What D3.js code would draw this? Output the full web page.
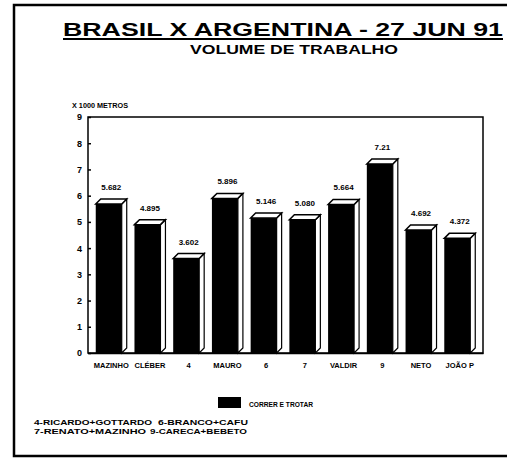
<!DOCTYPE html>
<html>
<head>
<meta charset="utf-8">
<script src="https://cdn.jsdelivr.net/npm/d3@7"></script>
<style>
  body { margin: 0; background: #fff; }
  text { font-family: "Liberation Sans", Arial, sans-serif; font-weight: bold; fill: #000; }
</style>
</head>
<body>
<div id="graph"></div>
<script>
var players = ["MAZINHO", "CLÉBER", "4", "MAURO", "6", "7", "VALDIR", "9", "NETO", "JOÃO P"],
    volumes = [5.682, 4.895, 3.602, 5.896, 5.146, 5.080, 5.664, 7.21, 4.692, 4.372],
    value_labels = ["5.682", "4.895", "3.602", "5.896", "5.146", "5.080", "5.664", "7.21", "4.692", "4.372"],
    y_ticks = [0, 1, 2, 3, 4, 5, 6, 7, 8, 9],
    notes_left = ["4-RICARDO+GOTTARDO", "7-RENATO+MAZINHO"],
    notes_right = ["6-BRANCO+CAFU", "9-CARECA+BEBETO"];

var w = 511, h = 467;

var svg = d3.select("#graph").append("svg")
    .attr("width", w)
    .attr("height", h);

// outer frame (right side is missing on the scan)
svg.append("path")
    .attr("d", "M507,5L14,5L14,456L507,456")
    .attr("fill", "none")
    .attr("stroke", "#000")
    .attr("stroke-width", 2.5);

svg.append("text")
    .attr("x", 63).attr("y", 36)
    .attr("textLength", 440)
    .attr("lengthAdjust", "spacingAndGlyphs")
    .style("font-size", "19px")
    .text("BRASIL X ARGENTINA - 27 JUN 91");
svg.append("line")
    .attr("x1", 63).attr("x2", 503)
    .attr("y1", 39).attr("y2", 39)
    .attr("stroke", "#000").attr("stroke-width", 2);

svg.append("text")
    .attr("x", 190).attr("y", 54)
    .attr("textLength", 208)
    .attr("lengthAdjust", "spacingAndGlyphs")
    .style("font-size", "12.5px")
    .text("VOLUME DE TRABALHO");

svg.append("text")
    .attr("x", 72).attr("y", 108)
    .attr("textLength", 56)
    .attr("lengthAdjust", "spacingAndGlyphs")
    .style("font-size", "8px")
    .text("X 1000 METROS");

var x = d3.scaleBand()
        .domain(players)
        .range([88, 483])
        .paddingInner(0.2)
        .paddingOuter(0.2),
    y = d3.scaleLinear()
        .domain([0, 9])
        .range([353, 117]);

var g = svg.append("g");

// plot frame
g.append("rect")
    .attr("x", 88).attr("y", 117)
    .attr("width", 395).attr("height", 236)
    .attr("fill", "none")
    .attr("stroke", "#000")
    .attr("stroke-width", 1.5);

var yaxis = g.append("g")
    .attr("transform", "translate(88,0)")
    .call(d3.axisLeft(y).tickValues(y_ticks).tickSize(-3).tickPadding(6));
yaxis.select(".domain").remove();
yaxis.selectAll("line").attr("stroke-width", 1.5);
yaxis.selectAll("text").style("font-size", "9px").style("font-family", "Liberation Sans, Arial, sans-serif");

var xaxis = g.append("g")
    .attr("transform", "translate(0,353)")
    .call(d3.axisBottom(x).tickSize(0).tickPadding(10));
xaxis.select(".domain").attr("stroke-width", 1.5);
xaxis.selectAll("text")
    .style("font-size", "7.5px")
    .style("font-family", "Liberation Sans, Arial, sans-serif");

var depth = 5,
    bw = x.bandwidth() - depth;

var bars = g.selectAll(".bar")
    .data(volumes)
    .enter().append("g")
    .attr("class", "bar");

// side face
bars.append("path")
    .attr("d", function(d, i) {
        var x0 = x(players[i]) + bw, y0 = y(d);
        return "M" + x0 + "," + y0 + "L" + (x0 + depth) + "," + (y0 - depth) +
            "L" + (x0 + depth) + "," + (y(0) - depth) + "L" + x0 + "," + y(0) + "Z";
    })
    .attr("fill", "#fff")
    .attr("stroke", "#000")
    .attr("stroke-width", 1.2);

// top face
bars.append("path")
    .attr("d", function(d, i) {
        var x0 = x(players[i]), y0 = y(d);
        return "M" + x0 + "," + y0 + "L" + (x0 + depth) + "," + (y0 - depth) +
            "L" + (x0 + bw + depth) + "," + (y0 - depth) + "L" + (x0 + bw) + "," + y0 + "Z";
    })
    .attr("fill", "#fff")
    .attr("stroke", "#000")
    .attr("stroke-width", 1.5);

// front face
bars.append("rect")
    .attr("x", function(d, i) { return x(players[i]); })
    .attr("y", function(d) { return y(d); })
    .attr("width", bw)
    .attr("height", function(d) { return y(0) - y(d); })
    .attr("fill", "#000");

bars.append("text")
    .attr("x", function(d, i) { return x(players[i]) + x.bandwidth() / 2; })
    .attr("y", function(d) { return y(d) - depth - 9; })
    .attr("text-anchor", "middle")
    .style("font-size", "8px")
    .text(function(d, i) { return value_labels[i]; });

// legend
svg.append("rect")
    .attr("x", 218).attr("y", 397)
    .attr("width", 23).attr("height", 11)
    .attr("fill", "#000");
svg.append("text")
    .attr("x", 249).attr("y", 407)
    .attr("textLength", 64)
    .attr("lengthAdjust", "spacingAndGlyphs")
    .style("font-size", "8px")
    .text("CORRER E TROTAR");

svg.selectAll(".note-l")
    .data(notes_left)
    .enter().append("text")
    .attr("class", "note-l")
    .attr("x", 34)
    .attr("y", function(d, i) { return 425 + i * 9; })
    .attr("textLength", function(d, i) { return i === 0 ? 118 : 112; })
    .attr("lengthAdjust", "spacingAndGlyphs")
    .style("font-size", "7px")
    .text(function(d) { return d; });

svg.selectAll(".note-r")
    .data(notes_right)
    .enter().append("text")
    .attr("class", "note-r")
    .attr("x", function(d, i) { return i === 0 ? 158 : 150; })
    .attr("y", function(d, i) { return 425 + i * 9; })
    .attr("textLength", function(d, i) { return i === 0 ? 90 : 97; })
    .attr("lengthAdjust", "spacingAndGlyphs")
    .style("font-size", "7px")
    .text(function(d) { return d; });
</script>
</body>
</html>
